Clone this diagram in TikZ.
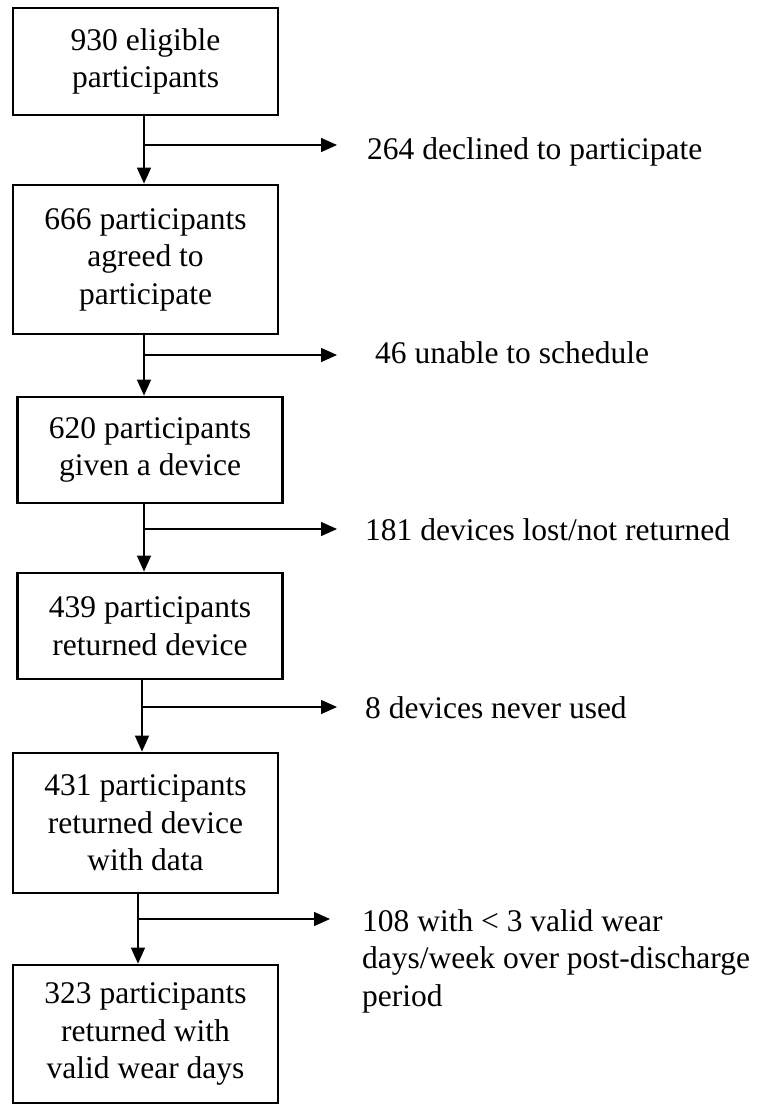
\documentclass[tikz,border=0pt]{standalone}
\usepackage{fontspec}
\setmainfont{Liberation Serif}
\usetikzlibrary{arrows.meta, calc}

\begin{document}
\begin{tikzpicture}[x=1pt, y=-1pt, >={Triangle[length=16pt, width=14pt]},
    every node/.style={font=\fontsize{31.5}{37.5}\selectfont},
    stage/.style={draw, line width=2.8pt, align=center, inner sep=0pt,
        minimum width=265pt},
    excl/.style={inner sep=0pt, align=left},
    arr/.style={->, line width=1.5pt}]
  \useasboundingbox (0,0) rectangle (769,1105);

  % Stages of the sample
  \node[stage, minimum height=107pt] (b1) at (145.5,61.5) {930 eligible\\participants};
  \node[stage, minimum height=149pt] (b2) at (145.5,259.5) {666 participants\\agreed to\\participate};
  \node[stage, minimum height=106pt] (b3) at (150,450) {620 participants\\given a device};
  \node[stage, minimum height=106pt] (b4) at (150,626) {439 participants\\returned device};
  \node[stage, minimum height=140pt] (b5) at (145.5,823) {431 participants\\returned device\\with data};
  \node[stage, minimum height=138pt] (b6) at (145.5,1034) {323 participants\\returned with\\valid wear days};

  % Exclusions
  \node[excl, anchor=base west] (x1) at (367,159) {264 declined to participate};
  \node[excl, anchor=base west] (x2) at (375,363) {46 unable to schedule};
  \node[excl, anchor=base west] (x3) at (365,540) {181 devices lost/not returned};
  \node[excl, anchor=base west] (x4) at (365,718) {8 devices never used};
  \node[excl, anchor=north west] (x5) at (362,909)
    {108 with < 3 valid wear\\days/week over post-discharge\\period};

  % Junctions on the main line
  \coordinate (j1) at (144,145);
  \coordinate (j2) at (144,355);
  \coordinate (j3) at (144,529);
  \coordinate (j4) at (142,707);
  \coordinate (j5) at (138,919);

  % Main flow
  \draw[arr] (j1 |- b1.south) -- (j1 |- b2.north);
  \draw[arr] (j2 |- b2.south) -- (j2 |- b3.north);
  \draw[arr] (j3 |- b3.south) -- (j3 |- b4.north);
  \draw[arr] (j4 |- b4.south) -- (j4 |- b5.north);
  \draw[arr] (j5 |- b5.south) -- (j5 |- b6.north);

  % Branches to the exclusions
  \draw[arr, shorten >=30pt] (j1) -- (j1 -| x1.west);
  \draw[arr, shorten >=38pt] (j2) -- (j2 -| x2.west);
  \draw[arr, shorten >=28pt] (j3) -- (j3 -| x3.west);
  \draw[arr, shorten >=28pt] (j4) -- (j4 -| x4.west);
  \draw[arr, shorten >=32pt] (j5) -- (j5 -| x5.west);
\end{tikzpicture}
\end{document}
